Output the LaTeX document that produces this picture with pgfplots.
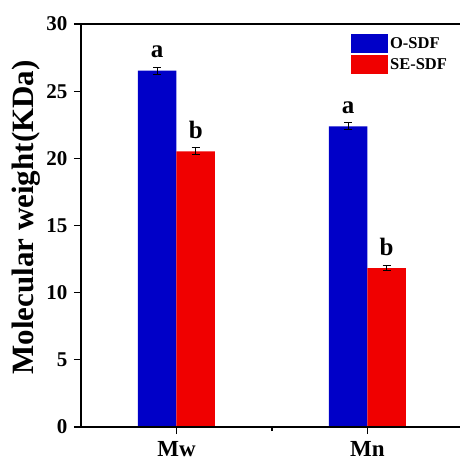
\documentclass[border=0pt]{standalone}
\usepackage{pgfplots}
\usepackage{pgfplotstable}
\pgfplotsset{compat=1.18}
\usepackage{fontspec}
\setmainfont{Liberation Serif}
\definecolor{barblue}{RGB}{0,0,200}
\definecolor{barred}{RGB}{240,0,0}
\pgfplotstableread{
x y e l
0 26.52 0.25 a
1 22.38 0.27 a
}\osdf
\pgfplotstableread{
x y e l
0 20.52 0.25 b
1 11.82 0.17 b
}\sesdf
\begin{document}
\begin{tikzpicture}
\begin{axis}[
  scale only axis, width=378pt, height=403pt,
  xmin=-0.5, xmax=1.48, ymin=0, ymax=30,
  clip=false,
  ybar,
  bar width=38.5pt,
  ytick={0,5,...,30},
  xtick={0,1}, xticklabels={Mw,Mn}, minor xtick={0.5},
  xtick pos=bottom, ytick pos=left,
  tick align=outside,
  major tick length=7pt, minor tick length=4pt,
  every tick/.style={black, line width=1.2pt},
  axis line style={draw=none},
  /pgf/number format/assume math mode=true,
  yticklabel style={font=\bfseries\fontsize{21}{24}\selectfont, xshift=-3pt},
  xticklabel style={font=\bfseries\fontsize{23}{26}\selectfont, yshift=-4pt},
  every axis y label/.style={at={(rel axis cs:-0.146,0.52)}, rotate=90, anchor=center},
  ylabel={Molecular weight(KDa)},
  ylabel style={font=\bfseries\fontsize{31}{36}\selectfont},
  legend style={at={(rel axis cs:0.714,0.975)}, anchor=north west, draw=none, fill=none,
    inner sep=0pt, row sep=2pt, font=\bfseries\fontsize{16.5}{19}\selectfont,
    /tikz/every even column/.append style={column sep=2pt}},
  legend cell align=left,
  legend image code/.code={\fill[#1] (0pt,-9.5pt) rectangle (37pt,9.5pt);},
  nodes near coords,
  point meta=explicit symbolic,
  every node near coord/.append style={font=\bfseries\fontsize{25}{28}\selectfont, black, anchor=base, yshift=13pt},
  error bars/y dir=both, error bars/y explicit,
  error bars/error mark options={rotate=90, mark size=4pt, line width=1pt, black},
  error bars/error bar style={line width=1pt, black},
]
\addplot[fill=barblue, draw=none, bar shift=-19.25pt] table[x=x, y=y, y error=e, meta=l] {\osdf};
\addlegendentry{O-SDF}
\addplot[fill=barred, draw=none, bar shift=19.25pt] table[x=x, y=y, y error=e, meta=l] {\sesdf};
\addlegendentry{SE-SDF}
\draw[line width=1.3pt, line cap=rect] (rel axis cs:1,1) -- (rel axis cs:0,1) -- (rel axis cs:0,0) -- (rel axis cs:1,0);
\end{axis}
\pgfresetboundingbox
\path[use as bounding box] ([shift={(-81pt,-34pt)}]current axis.south west) rectangle ([shift={(0pt,24pt)}]current axis.north east);
\end{tikzpicture}
\end{document}
